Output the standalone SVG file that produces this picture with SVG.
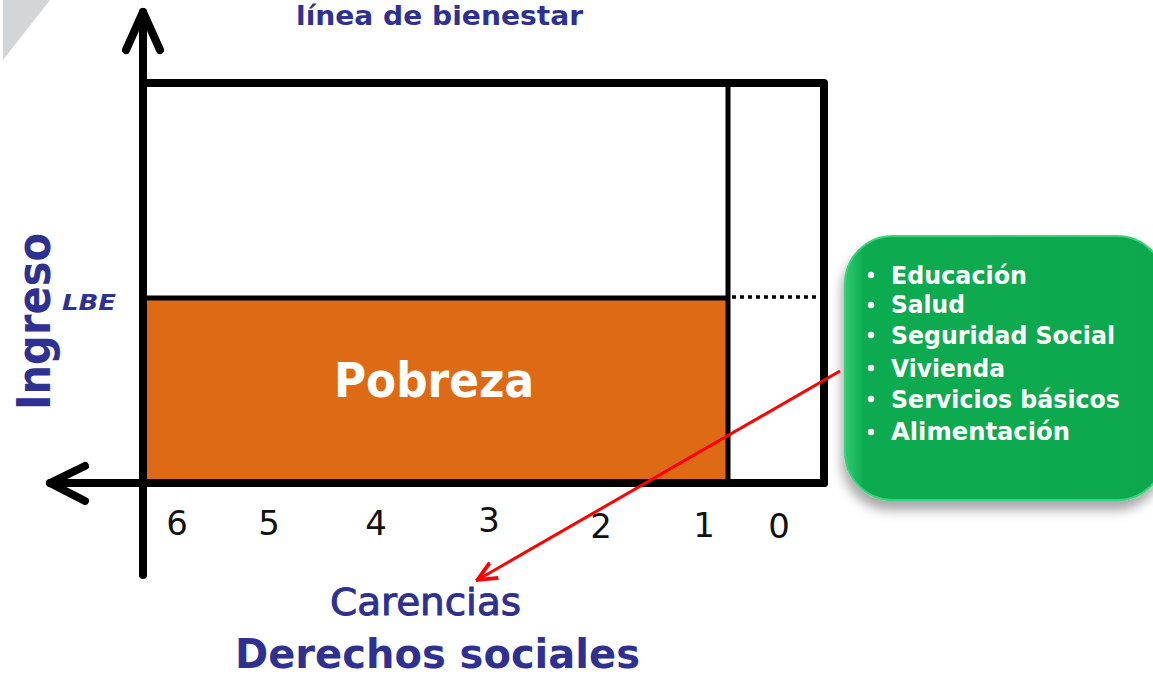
<svg xmlns="http://www.w3.org/2000/svg" width="1153" height="676" viewBox="0 0 1153 676">
<style>
.blue{fill:#2E3192;font-family:"DejaVu Sans","Liberation Sans",sans-serif}
.num{fill:#111;font-family:"DejaVu Sans","Liberation Sans",sans-serif;font-size:34px}
.item{fill:#fff;font-family:"DejaVu Sans","Liberation Sans",sans-serif;font-size:25.5px;font-weight:bold}
.ax{stroke:#000;stroke-width:8;fill:none;stroke-linecap:round;stroke-linejoin:round}
</style>
<defs>
<filter id="sh" x="-20%" y="-20%" width="150%" height="150%">
<feDropShadow dx="-2" dy="9" stdDeviation="6" flood-color="#000" flood-opacity="0.35"/>
</filter>
<linearGradient id="gg" x1="0" y1="0" x2="1" y2="0">
<stop offset="0" stop-color="#2FCB70"/>
<stop offset="0.06" stop-color="#0EAB50"/>
<stop offset="1" stop-color="#0DA84E"/>
</linearGradient>
<marker id="ra" viewBox="0 0 12 12" refX="10" refY="6" markerWidth="7" markerHeight="7" orient="auto" markerUnits="strokeWidth">
<path d="M0,1 L11,6 L0,11" fill="none" stroke="#FF0000" stroke-width="2.2"/>
</marker>
</defs>
<rect width="1153" height="676" fill="#fff"/>
<polygon points="3,0 50,0 3,60" fill="#D3D6D9"/>

<g id="pobreza">
<rect x="143" y="298" width="585" height="185" fill="#DE6A15"/>
<text x="434" y="397" text-anchor="middle" font-family="DejaVu Sans, Liberation Sans, sans-serif" font-size="48" font-weight="bold" fill="#fff" textLength="200" lengthAdjust="spacingAndGlyphs">Pobreza</text>
</g>

<g id="chart">
<polyline class="ax" points="143,83 824,83 824,483"/>
<line x1="728" y1="83" x2="728" y2="483" stroke="#000" stroke-width="5"/>
<line x1="143" y1="298" x2="728" y2="298" stroke="#000" stroke-width="5"/>
<line x1="732" y1="297" x2="822" y2="297" stroke="#000" stroke-width="3.5" stroke-dasharray="4,4"/>
</g>

<g id="axes">
<line class="ax" x1="143" y1="12" x2="143" y2="575" stroke-linecap="butt"/>
<polyline class="ax" points="126,50 143,12 160,50"/>
<line class="ax" x1="50" y1="483" x2="824" y2="483" stroke-linecap="butt"/>
<polyline class="ax" points="85,466 50,483 85,501"/>
</g>

<g id="labels">
<text class="blue" x="296" y="25" font-size="26" font-weight="bold" textLength="287" lengthAdjust="spacingAndGlyphs">línea de bienestar</text>
<text class="blue" x="50" y="410" font-size="46" font-weight="bold" transform="rotate(-90 50 410)" textLength="177" lengthAdjust="spacingAndGlyphs">Ingreso</text>
<text class="blue" x="62" y="310" font-size="22" font-weight="bold" font-style="italic" textLength="54" lengthAdjust="spacingAndGlyphs">LBE</text>
<text class="blue" x="330" y="615" font-size="38" stroke="#2E3192" stroke-width="1" textLength="191" lengthAdjust="spacingAndGlyphs">Carencias</text>
<text class="blue" x="235" y="668" font-size="41" font-weight="bold" textLength="405" lengthAdjust="spacingAndGlyphs">Derechos sociales</text>
</g>

<g id="numbers">
<text class="num" x="177" y="535" text-anchor="middle">6</text>
<text class="num" x="269" y="535" text-anchor="middle">5</text>
<text class="num" x="376" y="535" text-anchor="middle">4</text>
<text class="num" x="489" y="532" text-anchor="middle">3</text>
<text class="num" x="601" y="538" text-anchor="middle">2</text>
<text class="num" x="704" y="537" text-anchor="middle">1</text>
<text class="num" x="779" y="538" text-anchor="middle">0</text>
</g>

<g id="derechos">
<rect x="845" y="236" width="320" height="264" rx="48" ry="48" fill="url(#gg)" stroke="#3AD27C" stroke-width="2" filter="url(#sh)"/>
<g fill="#fff">
<circle cx="871" cy="275" r="3.2"/>
<circle cx="871" cy="305" r="3.2"/>
<circle cx="871" cy="335" r="3.2"/>
<circle cx="871" cy="368" r="3.2"/>
<circle cx="871" cy="399" r="3.2"/>
<circle cx="871" cy="432" r="3.2"/>
</g>
<text class="item" x="891" y="284" textLength="136" lengthAdjust="spacingAndGlyphs">Educación</text>
<text class="item" x="891" y="313" textLength="74" lengthAdjust="spacingAndGlyphs">Salud</text>
<text class="item" x="891" y="344" textLength="224" lengthAdjust="spacingAndGlyphs">Seguridad Social</text>
<text class="item" x="891" y="377" textLength="114" lengthAdjust="spacingAndGlyphs">Vivienda</text>
<text class="item" x="891" y="408" textLength="229" lengthAdjust="spacingAndGlyphs">Servicios básicos</text>
<text class="item" x="891" y="440" textLength="179" lengthAdjust="spacingAndGlyphs">Alimentación</text>
</g>

<g id="connectors">
<line x1="840" y1="371" x2="479" y2="579" stroke="#FF0000" stroke-width="3" marker-end="url(#ra)"/>
</g>
</svg>
